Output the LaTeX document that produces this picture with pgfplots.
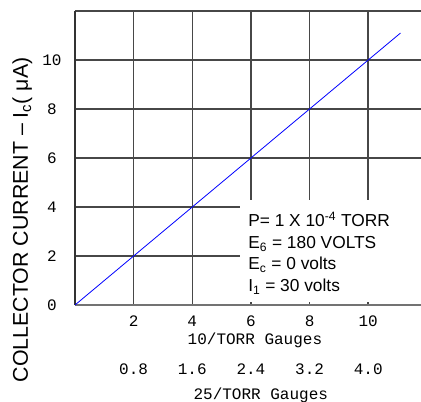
\documentclass[border=0pt]{standalone}
\usepackage{pgfplots}
\pgfplotsset{compat=1.18}
\usepackage{fontspec}
\setmainfont{Liberation Sans}
\newfontfamily\cad{Liberation Mono}

\begin{document}
\begin{tikzpicture}
% page frame: 421x402 px at 0.75pt per px, axis box at the origin
\useasboundingbox (-56.25pt,-72.75pt) rectangle (259.5pt,228.75pt);
\begin{axis}[
    scale only axis,
    width=259.5pt, height=220.5pt,
    xmin=0, xmax=11.8, ymin=0, ymax=12,
    clip=false,
    axis x line*=bottom, axis y line*=left,
    x axis line style={-, draw=black!55, line width=1.3pt},
    y axis line style={-, draw=black!80, line width=1.3pt},
    xtick={2,4,6,8,10},
    ytick={0,2,4,6,8,10,12},
    yticklabels={0,2,4,6,8,10,{}},
    major tick length=0pt,
    grid=major,
    grid style={draw=black!72, line width=1.1pt},
    tick label style={font=\cad\fontsize{12}{14}\selectfont},
    /pgf/number format/assume math mode=true,
    yticklabel style={anchor=center, xshift=-17.25pt},
    xticklabel style={anchor=base, yshift=-16.5pt},
    extra x ticks={2,4,6,8,10},
    extra x tick labels={0.8,1.6,2.4,3.2,4.0},
    extra x tick style={grid=none, xticklabel style={yshift=-36pt}},
    ylabel={COLLECTOR CURRENT -- I\textsubscript{c}( μA)},
    ylabel style={font=\fontsize{16}{19}\selectfont, inner sep=0pt,
                  at={(axis description cs:-0.182,0.29)}, anchor=north},
]
\addplot[blue, line width=0.6pt] coordinates {(0,0) (11.1,11.1)};
\fill[white] (axis cs:5.63,0.12) rectangle (axis cs:11.8,4.29);
\node[anchor=north west, inner sep=0pt, align=left,
      font=\fontsize{13}{16.3}\selectfont] at (axis cs:5.9,3.8)
  {P= 1 X 10\textsuperscript{-4} TORR\\
   E\textsubscript{6} = 180 VOLTS\\
   E\textsubscript{c} = 0 volts\\
   I\textsubscript{1} = 30 volts};
\node[anchor=base, font=\cad\fontsize{12}{14}\selectfont]
  at ([yshift=-30pt]rel axis cs:0.52,0) {10/TORR Gauges};
\node[anchor=base, font=\cad\fontsize{12}{14}\selectfont]
  at ([yshift=-71pt]rel axis cs:0.537,0) {25/TORR Gauges};
\end{axis}
\end{tikzpicture}
\end{document}
